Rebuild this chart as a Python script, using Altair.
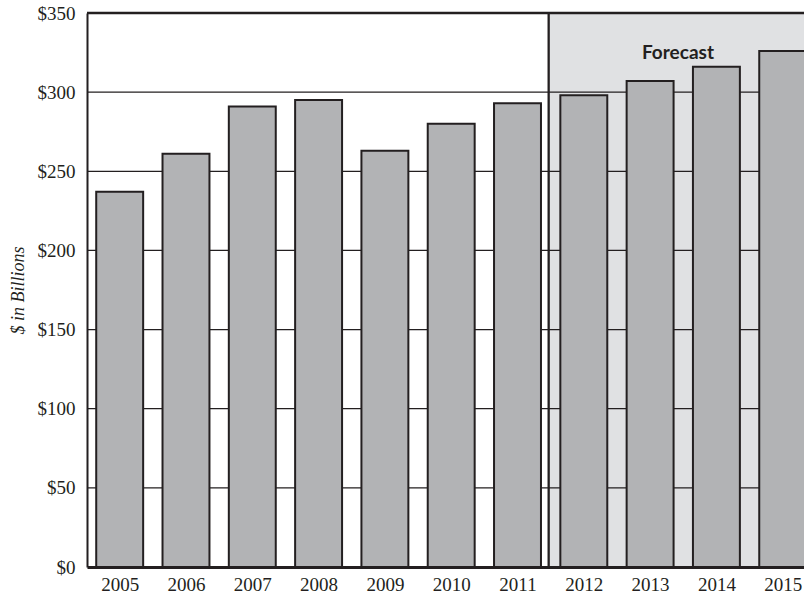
import altair as alt
import pandas as pd

# Annual values, $ in billions (2012 onward are forecasts)
years = [2005, 2006, 2007, 2008, 2009, 2010, 2011, 2012, 2013, 2014, 2015]
values = [237, 261, 291, 295, 263, 280, 293, 298, 307, 316, 326]
grid_levels = [50, 100, 150, 200, 250, 300]
y_ticks = [0, 50, 100, 150, 200, 250, 300, 350]

x_domain = [2004.507, 2015.321]
forecast_start = 2011.47
bar_half = 0.354

INK = "#231f20"
BAR = "#b2b3b5"
SHADE = "#e0e1e3"

bars_df = pd.DataFrame({"year": years, "value": values})
grid_df = pd.DataFrame({"level": grid_levels})
shade_df = pd.DataFrame({"x0": [forecast_start], "x1": [x_domain[1]], "y0": [0], "y1": [350]})
top_df = pd.DataFrame({"x0": [x_domain[0]], "x1": [x_domain[1]], "y": [350]})
label_df = pd.DataFrame({"x": [2013.42], "y": [325], "text": ["Forecast"]})

xs = alt.Scale(domain=x_domain, nice=False, zero=False)
ys = alt.Scale(domain=[0, 350], nice=False)

x_axis = alt.Axis(
    values=years, format="d", title=None, grid=False, ticks=False,
    labelFont="Liberation Serif", labelFontSize=19, labelColor=INK,
    labelPadding=8, domainColor=INK, domainWidth=3, zindex=1,
)
y_axis = alt.Axis(
    values=y_ticks, format="$,d", title="$ in Billions", grid=False, ticks=False,
    labelFont="Liberation Serif", labelFontSize=19, labelColor=INK,
    labelPadding=12, domainColor=INK, domainWidth=2, zindex=1,
    titleFont="Liberation Serif", titleFontSize=18, titleFontStyle="italic",
    titleFontWeight="normal", titleColor=INK, titleX=-69, titleY=277,
    titleAngle=-90, titleAlign="center", titleBaseline="middle",
)

shade = alt.Chart(shade_df).mark_rect(color=SHADE, clip=True).encode(
    x=alt.X("x0:Q", scale=xs, axis=x_axis),
    x2="x1:Q",
    y=alt.Y("y0:Q", scale=ys, axis=y_axis),
    y2="y1:Q",
)

grid = alt.Chart(grid_df).mark_rule(color=INK, strokeWidth=1.2).encode(
    y=alt.Y("level:Q", scale=ys),
)

divider = alt.Chart(shade_df).mark_rule(color=INK, strokeWidth=2.3).encode(
    x=alt.X("x0:Q", scale=xs),
    y=alt.Y("y0:Q", scale=ys),
    y2="y1:Q",
)

bars = alt.Chart(bars_df).transform_calculate(
    left=f"datum.year - {bar_half}", right=f"datum.year + {bar_half}"
).mark_rect(fill=BAR, stroke=INK, strokeWidth=2, clip=True).encode(
    x=alt.X("left:Q", scale=xs),
    x2="right:Q",
    y=alt.Y("value:Q", scale=ys),
    y2=alt.datum(0),
)

top = alt.Chart(top_df).mark_rule(color=INK, strokeWidth=2.4).encode(
    x=alt.X("x0:Q", scale=xs),
    x2="x1:Q",
    y=alt.Y("y:Q", scale=ys),
)

label = alt.Chart(label_df).mark_text(
    font="Lato", fontSize=19, fontWeight="bold", color=INK,
    align="center", baseline="middle",
).encode(
    x=alt.X("x:Q", scale=xs),
    y=alt.Y("y:Q", scale=ys),
    text="text:N",
)

chart = alt.layer(shade, grid, divider, bars, top, label).properties(
    width=717,
    height=554,
    padding={"left": 87, "top": 13, "right": 0, "bottom": 31},
    autosize=alt.AutoSizeParams(type="none"),
    background="white",
).configure_view(stroke=None)

chart.save("out.html", embed_options={"renderer": "svg", "actions": False})
